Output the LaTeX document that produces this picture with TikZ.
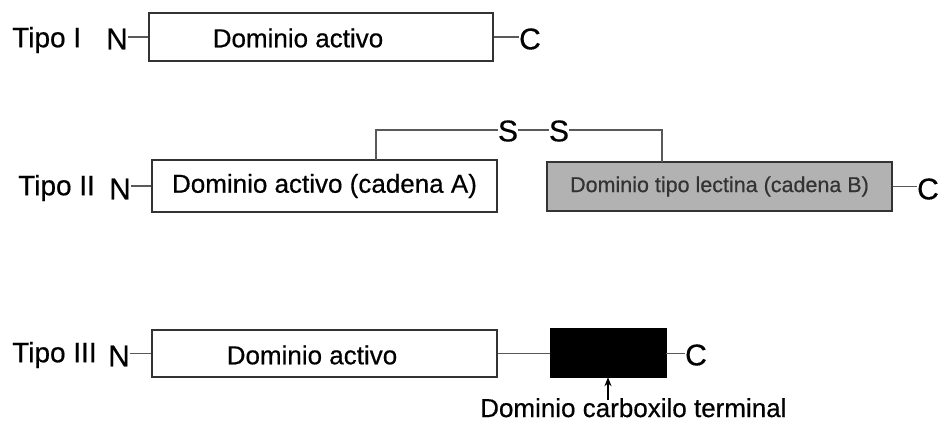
\documentclass[tikz,border=0pt]{standalone}
\usepackage{fontspec}
\setmainfont{Liberation Sans}[FakeBold=0.5]
\usetikzlibrary{arrows.meta}
\begin{document}
\begin{tikzpicture}[x=1pt,y=-1pt,
  dombox/.style={draw=black!80, line width=1.2pt, inner sep=0pt, font=\fontsize{26}{28}\selectfont},
  link/.style={draw=black!65, line width=1.2pt},
  termlabel/.style={inner sep=0pt, font=\fontsize{30}{32}\selectfont},
  typelabel/.style={inner sep=0pt, anchor=west, font=\fontsize{28}{30}\selectfont},
  txtlabel/.style={inner sep=0pt, font=\fontsize{26}{28}\selectfont}]
\useasboundingbox (0,0) rectangle (942,425);

% Tipo I
\node[typelabel] (t1) at (12,40) {Tipo I};
\node[termlabel] (n1) at (117,39) {N};
\node[dombox, minimum width=344pt, minimum height=48pt] (d1) at (321,37) {};
\node[txtlabel] (d1txt) at (298,38) {Dominio activo};
\node[termlabel] (c1) at (530,39) {C};
\draw[link] (n1.east |- d1.west) -- (d1.west);
\draw[link] (d1.east) -- (c1.west |- d1.east);

% Tipo II
\node[typelabel] (t2) at (18,188) {Tipo II};
\node[termlabel] (n2) at (120,189) {N};
\node[dombox, minimum width=345pt, minimum height=52pt] (d2a) at (324.5,186) {Dominio activo (cadena A)};
\node[dombox, fill=black!30, text=black!80, minimum width=345pt, minimum height=49pt,
      font=\fontsize{21.5}{24}\selectfont] (d2b) at (719.5,186.5) {Dominio tipo lectina (cadena B)};
\node[termlabel] (c2) at (928,189) {C};
\draw[link] (n2.east |- d2a.west) -- (d2a.west);
\draw[link] (d2b.east) -- (c2.west |- d2b.east);

% disulfide bridge between the two chains
\node[termlabel] (s1) at (508,131) {S};
\node[termlabel] (s2) at (559,131) {S};
\coordinate (ka) at (376,160);
\coordinate (kb) at (662,162);
\draw[link] (s1.west |- 0,130) -| (ka);
\draw[link] (s2.east |- 0,130) -| (kb);
\draw[link] (s1.east |- 0,130) -- (s2.west |- 0,130);

% Tipo III
\node[typelabel] (t3) at (12,355) {Tipo III};
\node[termlabel] (n3) at (119,356) {N};
\node[dombox, minimum width=345pt, minimum height=47pt] (d3) at (324.5,353.5) {};
\node[txtlabel] (d3txt) at (312,355) {Dominio activo};
\node[draw=black, fill=black, minimum width=116pt, minimum height=49pt, inner sep=0pt] (blk) at (608,352.5) {};
\node[termlabel] (c3) at (696,355) {C};
\draw[link] (n3.east |- d3.west) -- (d3.west);
\draw[link] (d3.east) -- (d3.east -| blk.west);
\draw[link] (blk.east |- d3.east) -- (c3.west |- d3.east);
\node[txtlabel, anchor=north west] (lbl) at (480,398) {Dominio carboxilo terminal};
\draw[black, line width=1.5pt, -{Stealth[length=9pt, width=7pt]}] (blk.south |- lbl.north) ++(0,2) -- (blk.south);
\end{tikzpicture}
\end{document}
